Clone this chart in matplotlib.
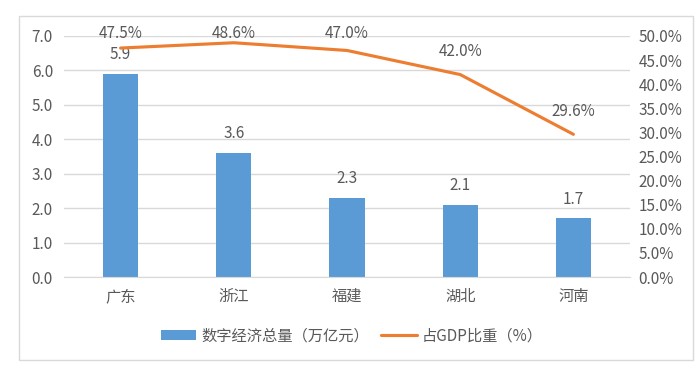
import matplotlib
matplotlib.use('Agg')
import matplotlib.pyplot as plt
from matplotlib.patches import Rectangle
from matplotlib.ticker import FuncFormatter

plt.rcParams['font.family'] = ['Noto Sans CJK SC', 'DejaVu Sans']

provinces = ['广东', '浙江', '福建', '湖北', '河南']
digital_total = [5.9, 3.6, 2.3, 2.1, 1.7]
gdp_share = [47.5, 48.6, 47.0, 42.0, 29.6]

BLUE = '#5B9BD5'
ORANGE = '#ED7D31'
TEXT = '#595959'
GRID = '#D9D9D9'
FS = 11

fig = plt.figure(figsize=(6.98, 3.72), dpi=100)
fig.patches.append(Rectangle((19 / 698, 1 - 360 / 372), 674 / 698, 344 / 372,
                             transform=fig.transFigure, fill=False,
                             edgecolor=GRID, linewidth=1))

ax = fig.add_axes([64 / 698, 1 - 277 / 372, 566 / 698, 241 / 372])
x = list(range(len(provinces)))
bars = ax.bar(x, digital_total, width=0.31, color=BLUE, zorder=2)
ax.set_ylim(0, 7.0)
ax.set_xlim(-0.5, len(provinces) - 0.5)
ax.set_yticks([i for i in range(8)])
ax.yaxis.set_major_formatter(FuncFormatter(lambda v, p: f'{v:.1f}'))
ax.set_xticks(x)
ax.set_xticklabels(provinces)
ax.grid(axis='y', color=GRID, linewidth=1, zorder=0)
for s in ['top', 'right', 'left']:
    ax.spines[s].set_visible(False)
ax.spines['bottom'].set_color(GRID)
ax.tick_params(length=0, labelsize=FS, colors=TEXT)
ax.tick_params(axis='y', pad=8)
ax.tick_params(axis='x', pad=8)
for xi, v in zip(x, digital_total):
    ax.annotate(f'{v:.1f}', (xi, v), xytext=(0, 14), textcoords='offset points',
                ha='center', va='center', fontsize=FS, color=TEXT)

ax2 = ax.twinx()
line, = ax2.plot(x, [g / 100 for g in gdp_share], color=ORANGE, linewidth=2.25,
                 solid_capstyle='round')
ax2.set_ylim(0, 0.5)
ax2.set_yticks([i * 0.05 for i in range(11)])
ax2.yaxis.set_major_formatter(FuncFormatter(lambda v, p: f'{v * 100:.1f}%'))
for s in ax2.spines.values():
    s.set_visible(False)
ax2.tick_params(length=0, labelsize=FS, colors=TEXT, pad=6)
# labels sit above the points, but are kept inside the top of the plot area
for xi, g in zip(x, gdp_share):
    ly = min(g / 100 + 0.0477, 0.506)
    ax2.text(xi, ly, f'{g:.1f}%', ha='center', va='center', fontsize=FS, color=TEXT)

fig.legend([bars, line], ['数字经济总量（万亿元）', '占GDP比重（%）'],
           loc='center', bbox_to_anchor=(352 / 698, 1 - 336 / 372), ncol=2,
           frameon=False, fontsize=FS, labelcolor=TEXT, handlelength=2.3,
           handleheight=0.6, columnspacing=0.8, handletextpad=0.35)

fig.savefig('out.png', dpi=100)
